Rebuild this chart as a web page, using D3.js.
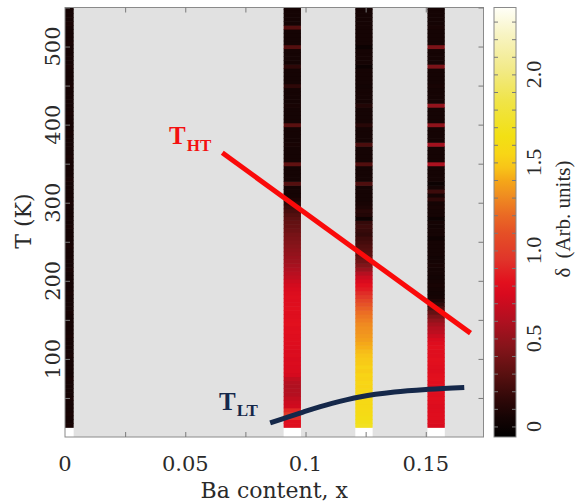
<!DOCTYPE html>
<html><head><meta charset="utf-8">
<script src="https://cdn.jsdelivr.net/npm/d3@7"></script>
<style>body{margin:0;background:#fff}svg{display:block}</style>
</head><body><svg id="c" width="576" height="504"></svg>
<script>
// ---------------- data ----------------
const baContent = [0, 0.0945, 0.1243, 0.1543];   // column positions (Ba content x)
const tFirst = 12.5;   // lowest measured temperature edge (K)
const tStep = 5;       // temperature step of rows (K)
// delta values, one per temperature row, starting at tFirst, step tStep
const delta0 = [
0.06,0.05,0.05,0.06,0.05,0.05,0.05,0.06,0.05,0.05,
0.05,0.05,0.06,0.05,0.05,0.05,0.05,0.05,0.06,0.05,
0.05,0.05,0.05,0.06,0.05,0.05,0.05,0.05,0.05,0.06,
0.05,0.05,0.05,0.05,0.06,0.05,0.05,0.05,0.05,0.05,
0.06,0.05,0.05,0.05,0.05,0.05,0.06,0.05,0.05,0.05,
0.05,0.06,0.05,0.05,0.05,0.05,0.05,0.06,0.05,0.05,
0.05,0.05,0.05,0.06,0.05,0.05,0.05,0.05,0.05,0.06,
0.05,0.05,0.05,0.05,0.05,0.06,0.05,0.05,0.05,0.05,
0.06,0.05,0.05,0.05,0.05,0.05,0.05,0.06,0.05,0.05,
0.05,0.05,0.06,0.05,0.05,0.05,0.05,0.05,0.06,0.05,
0.05,0.05,0.05,0.06,0.05,0.05,0.05,0.05];
const delta1 = [
0.80,0.80,0.92,0.98,0.90,0.72,0.70,0.66,0.62,0.61,
0.60,0.62,0.66,0.74,0.76,0.76,0.77,0.76,0.78,0.77,
0.78,0.79,0.80,0.80,0.81,0.80,0.82,0.81,0.80,0.80,
0.81,0.80,0.79,0.80,0.78,0.76,0.73,0.70,0.66,0.63,
0.60,0.57,0.54,0.52,0.50,0.48,0.46,0.44,0.42,0.40,
0.37,0.35,0.33,0.31,0.28,0.24,0.20,0.14,0.08,0.05,
0.05,0.05,0.28,0.05,0.05,0.05,0.05,0.32,0.05,0.05,
0.05,0.05,0.06,0.05,0.05,0.05,0.05,0.30,0.05,0.05,
0.05,0.05,0.06,0.05,0.05,0.05,0.05,0.15,0.05,0.05,
0.05,0.05,0.15,0.05,0.05,0.05,0.05,0.28,0.05,0.05,
0.05,0.05,0.28,0.05,0.05,0.05,0.05,0.05];
const delta2 = [
1.70,1.67,1.62,1.60,1.59,1.58,1.58,1.57,1.58,1.56,
1.54,1.55,1.53,1.54,1.51,1.53,1.50,1.49,1.47,1.45,
1.42,1.40,1.37,1.35,1.33,1.32,1.30,1.27,1.24,1.21,
1.16,1.11,1.05,0.98,0.92,0.86,0.82,0.76,0.70,0.62,
0.52,0.44,0.38,0.34,0.30,0.28,0.26,0.23,0.20,0.16,
0.18,0.20,0.17,0.01,0.10,0.12,0.08,0.06,0.05,0.05,
0.05,0.05,0.26,0.05,0.05,0.05,0.05,0.27,0.05,0.05,
0.05,0.05,0.25,0.05,0.05,0.05,0.05,0.12,0.05,0.05,
0.05,0.05,0.10,0.05,0.05,0.05,0.05,0.04,0.05,0.05,
0.05,0.05,0.00,0.05,0.05,0.05,0.05,0.00,0.05,0.05,
0.05,0.05,0.05,0.05,0.05,0.05,0.05,0.05];
const delta3 = [
0.76,0.78,0.80,0.80,0.79,0.78,0.80,0.81,0.80,0.79,
0.78,0.80,0.82,0.81,0.79,0.80,0.81,0.82,0.80,0.80,
0.81,0.79,0.76,0.70,0.65,0.61,0.56,0.50,0.42,0.34,
0.26,0.16,0.09,0.05,0.04,0.05,0.06,0.05,0.04,0.05,
0.05,0.06,0.05,0.04,0.05,0.05,0.05,0.05,0.01,0.05,
0.05,0.04,0.05,0.00,0.05,0.05,0.06,0.05,0.15,0.05,
0.20,0.05,0.00,0.05,0.05,0.05,0.05,0.58,0.05,0.05,
0.05,0.05,0.55,0.05,0.05,0.05,0.05,0.48,0.05,0.05,
0.05,0.05,0.50,0.05,0.05,0.05,0.05,0.06,0.05,0.05,
0.05,0.05,0.42,0.05,0.05,0.05,0.05,0.42,0.05,0.05,
0.05,0.05,0.06,0.05,0.05,0.05,0.05,0.05];
const deltaSeries = [delta0, delta1, delta2, delta3];

// transition lines
const tHT = [[0.0654, 364], [0.1686, 133]];
const tLT = [[0.0853, 18], [0.099, 32], [0.111, 43], [0.123, 51.5], [0.137, 57.5], [0.151, 61], [0.166, 63.5]];

// ticks and labels
const xTickValues = [0, 0.05, 0.1, 0.15];
const xTickLabels = ["0", "0.05", "0.1", "0.15"];
const yTickValues = [100, 200, 300, 400, 500];
const yTickLabels = ["100", "200", "300", "400", "500"];
const cbTickValues = [0, 0.5, 1.0, 1.5, 2.0];
const cbTickLabels = ["0", "0.5", "1.0", "1.5", "2.0"];

// colour map stops
const cmapValues = [-0.06, 0.0, 0.05, 0.15, 0.30, 0.45, 0.60, 0.75, 0.82, 0.95, 1.10, 1.20, 1.32, 1.40, 1.47, 1.55, 1.65, 1.85, 2.03, 2.23, 2.38];
const cmapColors = ["#000000", "#0c0202", "#150404", "#2e0808", "#5a1010", "#85141a", "#b01020", "#d80a1e", "#e2101e", "#e0352a", "#e55026", "#ea6a24", "#f09020", "#f5a818", "#f8c418", "#f8d616", "#f2e014", "#f0e448", "#f2ea88", "#f8f4c4", "#fffff8"];

// ---------------- drawing ----------------
const svg = d3.select("#c");
const L = 65, R = 483.5, T = 7.5, B = 437;
const x = d3.scaleLinear().domain([0, 0.174]).range([L, R]);
const y = d3.scaleLinear().domain([0, 550]).range([B, T]);
const color = d3.scaleLinear().domain(cmapValues).range(cmapColors).clamp(true);
const colW = 0.0072;

svg.append("defs").append("clipPath").attr("id", "plotclip")
  .append("rect").attr("x", L).attr("y", T).attr("width", R - L).attr("height", B - T);

svg.append("rect").attr("x", L).attr("y", T).attr("width", R - L).attr("height", B - T).attr("fill", "#e1e1e1");

const cells = svg.append("g").attr("clip-path", "url(#plotclip)");
deltaSeries.forEach((vals, ci) => {
  const xc = baContent[ci];
  const x0 = x(xc - colW / 2), x1 = x(xc + colW / 2);
  // white (no data) band below the first measured temperature
  cells.append("rect").attr("x", x0).attr("width", x1 - x0)
    .attr("y", y(tFirst)).attr("height", y(0) - y(tFirst)).attr("fill", "#ffffff");
  cells.selectAll(null).data(vals).enter().append("rect")
    .attr("x", x0).attr("width", x1 - x0)
    .attr("y", (d, i) => y(tFirst + (i + 1) * tStep))
    .attr("height", (d, i) => y(tFirst + i * tStep) - y(tFirst + (i + 1) * tStep) + 0.6)
    .attr("fill", d => color(d));
});

// frame
svg.append("rect").attr("x", L).attr("y", T).attr("width", R - L).attr("height", B - T)
  .attr("fill", "none").attr("stroke", "#8a8a8a").attr("stroke-width", 1);

function styleAxis(g) {
  g.select(".domain").remove();
  g.selectAll(".tick line").attr("stroke", "#7a7a7a").attr("stroke-width", 1);
  g.selectAll(".tick text").remove();
}
const xMinor = d3.range(0.025, 0.17, 0.025);
const yMinor = d3.range(50, 551, 50);
svg.append("g").attr("transform", `translate(0,${B})`).call(d3.axisBottom(x).tickValues(xMinor).tickSize(-5)).call(styleAxis);
svg.append("g").attr("transform", `translate(0,${T})`).call(d3.axisTop(x).tickValues(xMinor).tickSize(-5)).call(styleAxis);
svg.append("g").attr("transform", `translate(${L},0)`).call(d3.axisLeft(y).tickValues(yMinor).tickSize(-5)).call(styleAxis);
svg.append("g").attr("transform", `translate(${R},0)`).call(d3.axisRight(y).tickValues(yMinor).tickSize(-5)).call(styleAxis);

// lines
svg.append("path").datum(tHT)
  .attr("d", d3.line().x(d => x(d[0])).y(d => y(d[1])))
  .attr("fill", "none").attr("stroke", "#fa0a0a").attr("stroke-width", 5);
svg.append("path").datum(tLT)
  .attr("d", d3.line().x(d => x(d[0])).y(d => y(d[1])).curve(d3.curveMonotoneX))
  .attr("fill", "none").attr("stroke", "#15284a").attr("stroke-width", 5);

// line labels
const lab1 = svg.append("text").attr("x", 169).attr("y", 144)
  .attr("font-family", "Liberation Serif").attr("font-weight", "bold").attr("fill", "#f41010");
lab1.append("tspan").attr("font-size", 25).text("T");
lab1.append("tspan").attr("font-size", 17).attr("dy", 7).attr("dx", 1).text("HT");
const lab2 = svg.append("text").attr("x", 219).attr("y", 410)
  .attr("font-family", "Liberation Serif").attr("font-weight", "bold").attr("fill", "#15284a");
lab2.append("tspan").attr("font-size", 25).text("T");
lab2.append("tspan").attr("font-size", 17).attr("dy", 6).attr("dx", 1).text("LT");

// axis labels
const tickFont = "DejaVu Serif";
svg.append("g").selectAll("text").data(xTickValues).enter().append("text")
  .attr("x", d => x(d)).attr("y", 471).attr("text-anchor", "middle")
  .attr("font-family", tickFont).attr("font-size", 21).attr("fill", "#2a2a2a")
  .text((d, i) => xTickLabels[i]);
svg.append("g").selectAll("text").data(yTickValues).enter().append("text")
  .attr("transform", d => `translate(52.5,${y(d)}) rotate(-90)`)
  .attr("text-anchor", "middle").attr("dominant-baseline", "central")
  .attr("font-family", tickFont).attr("font-size", 21).attr("fill", "#2a2a2a")
  .text((d, i) => yTickLabels[i]);
svg.append("text").attr("x", (L + R) / 2).attr("y", 498).attr("text-anchor", "middle")
  .attr("font-family", tickFont).attr("font-size", 22).attr("fill", "#2a2a2a")
  .text("Ba content, x");
svg.append("text").attr("transform", `translate(23,221) rotate(-90)`)
  .attr("text-anchor", "middle").attr("dominant-baseline", "central")
  .attr("font-family", tickFont).attr("font-size", 22).attr("fill", "#2a2a2a")
  .text("T (K)");

// colour bar
const CB0 = 494, CB1 = 516;
const cy = d3.scaleLinear().domain([-0.06, 2.38]).range([B, T]);
const grad = svg.select("defs").append("linearGradient").attr("id", "cbgrad")
  .attr("x1", 0).attr("y1", 1).attr("x2", 0).attr("y2", 0);
grad.selectAll("stop").data(cmapValues).enter().append("stop")
  .attr("offset", d => (d - cy.domain()[0]) / (cy.domain()[1] - cy.domain()[0]))
  .attr("stop-color", (d, i) => cmapColors[i]);
svg.append("rect").attr("x", CB0).attr("y", T).attr("width", CB1 - CB0).attr("height", B - T)
  .attr("fill", "url(#cbgrad)").attr("stroke", "#8a8a8a").attr("stroke-width", 1);
const cbMinor = d3.range(0, 2.35, 0.1);
svg.append("g").attr("transform", `translate(${CB0},0)`).call(d3.axisLeft(cy).tickValues(cbMinor).tickSize(-4)).call(styleAxis);
svg.append("g").attr("transform", `translate(${CB1},0)`).call(d3.axisRight(cy).tickValues(cbMinor).tickSize(-4)).call(styleAxis);
svg.append("g").selectAll("text").data(cbTickValues).enter().append("text")
  .attr("transform", d => `translate(533.5,${cy(d)}) rotate(-90)`)
  .attr("text-anchor", "middle").attr("dominant-baseline", "central")
  .attr("font-family", "Liberation Serif").attr("font-size", 22).attr("fill", "#2a2a2a")
  .text((d, i) => cbTickLabels[i]);
const cbt = svg.append("text").attr("transform", `translate(563,219) rotate(-90)`)
  .attr("text-anchor", "middle").attr("dominant-baseline", "central")
  .attr("font-family", "Liberation Serif").attr("font-size", 21).attr("fill", "#2a2a2a");
cbt.append("tspan").text("δ");
cbt.append("tspan").attr("dx", 9).text("(Arb. units)");
</script>
</body></html>
